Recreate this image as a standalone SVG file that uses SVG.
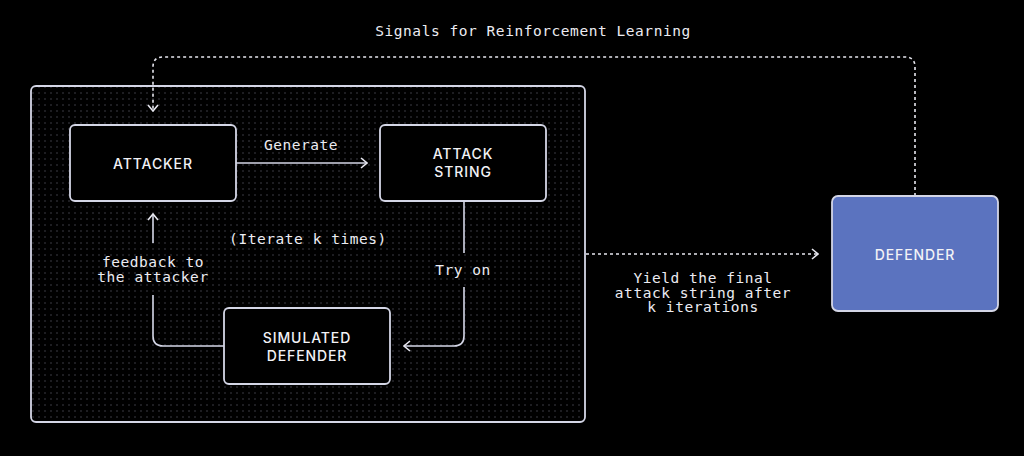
<svg xmlns="http://www.w3.org/2000/svg" width="1024" height="456" viewBox="0 0 1024 456">
<defs>
<pattern id="dots" x="0" y="0" width="6" height="6" patternUnits="userSpaceOnUse">
<circle cx="3" cy="3" r="0.7" fill="#4e4e5a"/>
</pattern>
<marker id="chev" viewBox="0 0 10 12" refX="9" refY="6" markerWidth="10" markerHeight="12" markerUnits="userSpaceOnUse" orient="auto">
<path d="M3,1 L9,6 L3,11" fill="none" stroke="#e6e6ee" stroke-width="1.6"/>
</marker>
</defs>
<style>
.box{fill:#000;stroke:#d4d6e6;stroke-width:1.8}
.lbl{font-family:Inter,"Noto Sans","Liberation Sans",sans-serif;font-size:14px;font-weight:500;letter-spacing:0.9px;fill:#f2f2f6;text-anchor:middle}
.mono{font-family:"DejaVu Sans Mono","Liberation Mono",monospace;font-size:14.5px;fill:#ececf2;text-anchor:middle;letter-spacing:0.55px}
.ln{fill:none;stroke:#d4d6e6;stroke-width:1.6}
.dt{fill:none;stroke:#e6e6ee;stroke-width:1.6;stroke-dasharray:3 3}
</style>
<rect width="1024" height="456" fill="#000"/>
<g id="container">
<rect x="31" y="86" width="554" height="336" rx="5" fill="#000" stroke="#d4d6e6" stroke-width="1.8"/>
<rect x="32" y="87" width="552" height="334" rx="4" fill="url(#dots)"/>
</g>
<g id="connectors">
<path class="ln" d="M236,163 H367" marker-end="url(#chev)"/>
<path class="ln" d="M464,201 V253"/>
<path class="ln" d="M464,287 V336 Q464,346 454,346 H404" marker-end="url(#chev)"/>
<path class="ln" d="M224,346 H163 Q153,346 153,336 V295"/>
<path class="ln" d="M153,243 V214" marker-end="url(#chev)"/>
<path class="dt" d="M586,254 H818" marker-end="url(#chev)"/>
<path class="dt" d="M915,196 V67 Q915,57 905,57 H163 Q153,57 153,67 V111" marker-end="url(#chev)"/>
<text class="mono" x="301" y="150">Generate</text>
<text class="mono" x="463" y="275">Try on</text>
<text class="mono" x="308" y="244">(Iterate k times)</text>
<text class="mono" x="153" y="267">feedback to</text>
<text class="mono" x="153" y="282">the attacker</text>
<text class="mono" x="703" y="283">Yield the final</text>
<text class="mono" x="703" y="298">attack string after</text>
<text class="mono" x="703" y="312">k iterations</text>
<text class="mono" x="533" y="36">Signals for Reinforcement Learning</text>
</g>
<g id="attacker">
<rect class="box" x="70" y="125" width="166" height="76" rx="5"/>
<text class="lbl" x="153" y="169">ATTACKER</text>
</g>
<g id="attack-string">
<rect class="box" x="380" y="125" width="166" height="76" rx="5"/>
<text class="lbl" x="463" y="159">ATTACK</text>
<text class="lbl" x="463" y="177">STRING</text>
</g>
<g id="simulated-defender">
<rect class="box" x="224" y="308" width="166" height="76" rx="5"/>
<text class="lbl" x="307" y="343">SIMULATED</text>
<text class="lbl" x="307" y="361">DEFENDER</text>
</g>
<g id="defender">
<rect x="832" y="196" width="166" height="115" rx="6" fill="#5b73bf" stroke="#d4d6e6" stroke-width="1.8"/>
<text class="lbl" x="915" y="260">DEFENDER</text>
</g>
</svg>
